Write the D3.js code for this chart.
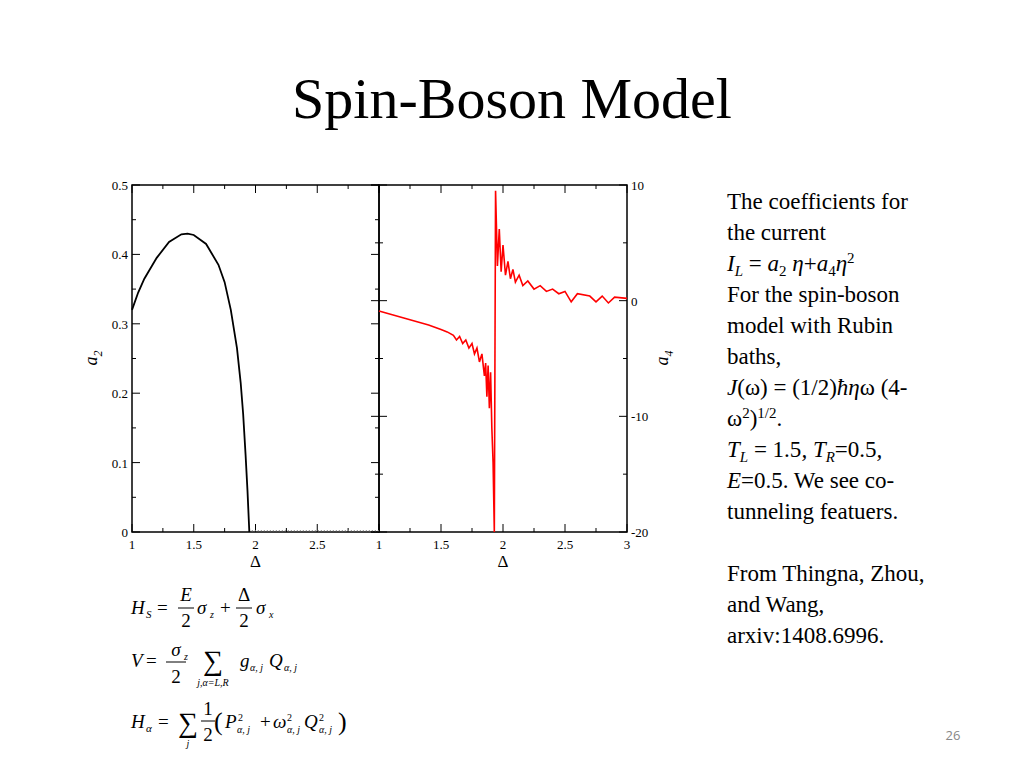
<!DOCTYPE html>
<html><head><meta charset="utf-8">
<script src="https://cdn.jsdelivr.net/npm/d3@7"></script>
<style>body{margin:0;background:#fff}svg{font-family:"Liberation Serif",serif}</style>
</head><body><svg id="c" width="1024" height="768"></svg>
<script>
// a2 vs Delta (left panel)
var a2X = [1.0,1.05,1.1,1.2,1.3,1.4,1.45,1.5,1.6,1.7,1.75,1.8,1.85,1.88,1.9,1.92,1.935,1.95];
var a2Y = [0.32,0.345,0.365,0.395,0.418,0.429,0.43,0.428,0.415,0.385,0.36,0.32,0.265,0.215,0.17,0.11,0.06,0];
// a4 vs Delta (right panel), left and right branch
var a4X = [1.0,1.1,1.2,1.3,1.4,1.5,1.55,1.6,1.625,1.65,1.675,1.7,1.725,1.75,1.77,1.79,1.81,1.83,1.85,1.86,1.87,1.88,1.89,1.9,1.91,1.92,1.93,
  1.94,1.955,1.97,1.985,2.0,2.02,2.04,2.06,2.08,2.1,2.13,2.16,2.2,2.25,2.3,2.35,2.4,2.45,2.5,2.55,2.6,2.7,2.75,2.8,2.85,2.9,3.0];
var a4Y = [-0.9,-1.2,-1.5,-1.8,-2.1,-2.5,-2.7,-3.0,-3.4,-3.1,-3.7,-3.4,-4.1,-3.7,-4.6,-4.1,-5.3,-4.6,-6.5,-5.4,-8.3,-5.6,-9.3,-6.2,-11,-14,-20,
  9.5,3,6.2,2.5,4.8,2.2,3.4,1.9,2.7,1.6,2.2,1.3,1.7,1.0,1.3,0.8,1.0,0.6,0.8,-0.1,0.6,0.4,-0.1,0.4,-0.2,0.3,0.2];
var xTicks = [1,1.5,2,2.5];
var textLines = ["The coefficients for","the current"];

var svg = d3.select("#c");
svg.append("text").attr("x",512).attr("y",118).attr("text-anchor","middle").attr("font-size",58).text("Spin-Boson Model");

var pTop = 185, pBot = 532;
var xL = d3.scaleLinear().domain([1,3]).range([132,379]);
var xR = d3.scaleLinear().domain([1,3]).range([379,627]);
var yL = d3.scaleLinear().domain([0,0.5]).range([pBot,pTop]);
var yR = d3.scaleLinear().domain([-20,10]).range([pBot,pTop]);

function panel(x, y, yt, ytm, xlast, rightLabels){
  var g = svg.append("g");
  g.append("rect").attr("x",x.range()[0]).attr("y",pTop).attr("width",x.range()[1]-x.range()[0]).attr("height",pBot-pTop)
    .attr("fill","none").attr("stroke","#000").attr("stroke-width",1.5);
  var xt = d3.range(1,3.01,0.25);
  xt.forEach(function(v){
    var big = Math.abs(v*2-Math.round(v*2))<1e-6, L = big?8:4;
    g.append("line").attr("x1",x(v)).attr("x2",x(v)).attr("y1",pBot).attr("y2",pBot-L).attr("stroke","#000");
    g.append("line").attr("x1",x(v)).attr("x2",x(v)).attr("y1",pTop).attr("y2",pTop+L).attr("stroke","#000");
  });
  (xlast?xTicks.concat([3]):xTicks).forEach(function(v){
    g.append("text").attr("x",x(v)).attr("y",pBot+17).attr("text-anchor","middle").attr("font-size",13).text(v);
  });
  var x0 = x.range()[0], x1 = x.range()[1];
  ytm.forEach(function(v){
    var big = yt.indexOf(v)>=0, L = big?8:4;
    g.append("line").attr("x1",x0).attr("x2",x0+L).attr("y1",y(v)).attr("y2",y(v)).attr("stroke","#000");
    g.append("line").attr("x1",x1).attr("x2",x1-L).attr("y1",y(v)).attr("y2",y(v)).attr("stroke","#000");
    if(rightLabels) g.append("line").attr("x1",x0).attr("x2",x0-L).attr("y1",y(v)).attr("y2",y(v)).attr("stroke","#000");
  });
  yt.forEach(function(v){
    if(rightLabels) g.append("text").attr("x",x1+4).attr("y",y(v)+5).attr("font-size",13).text(v);
    else g.append("text").attr("x",x0-4).attr("y",y(v)+5).attr("text-anchor","end").attr("font-size",13).text(v);
  });
  g.append("text").attr("x",(x0+x1)/2).attr("y",pBot+35).attr("text-anchor","middle").attr("font-size",17).text("Δ");
}
panel(xL,yL,[0,0.1,0.2,0.3,0.4,0.5],d3.range(0,0.501,0.05).map(function(v){return +v.toFixed(2)}),false,false);
panel(xR,yR,[-20,-10,0,10],d3.range(-20,10.01,5),true,true);

svg.append("text").attr("transform","translate(97,358) rotate(-90)").attr("text-anchor","middle").attr("font-size",18).attr("font-style","italic")
  .html('a<tspan font-size="12" dy="5">2</tspan>');
svg.append("text").attr("transform","translate(668,358) rotate(-90)").attr("text-anchor","middle").attr("font-size",18).attr("font-style","italic")
  .html('a<tspan font-size="12" dy="5">4</tspan>');

var lineL = d3.line().x(function(d){return xL(d[0])}).y(function(d){return yL(d[1])});
svg.append("path").attr("d",lineL(d3.zip(a2X,a2Y))).attr("fill","none").attr("stroke","#000").attr("stroke-width",1.8);
svg.append("path").attr("d",lineL([[1.97,0.002],[3,0.002]])).attr("fill","none").attr("stroke","#888").attr("stroke-width",1.2).attr("stroke-dasharray","1,2");
var lineR = d3.line().x(function(d){return xR(d[0])}).y(function(d){return yR(d[1])});
svg.append("path").attr("d",lineR(d3.zip(a4X,a4Y))).attr("fill","none").attr("stroke","#f00").attr("stroke-width",1.6);

// right column text
var t = svg.append("g").attr("font-size",23);
var lx = 727, ly = 209, dy = 31;
function ln(i,html){ t.append("text").attr("x",lx).attr("y",ly+dy*i).html(html); }
ln(0,textLines[0]); ln(1,textLines[1]);
ln(2,'<tspan font-style="italic">I</tspan><tspan font-style="italic" font-size="15" dy="5">L</tspan><tspan dy="-5"> = </tspan><tspan font-style="italic">a</tspan><tspan font-size="15" dy="5">2</tspan><tspan dy="-5"> </tspan><tspan font-style="italic">η</tspan><tspan>+</tspan><tspan font-style="italic">a</tspan><tspan font-size="15" dy="5">4</tspan><tspan font-style="italic" dy="-5">η</tspan><tspan font-size="15" dy="-8">2</tspan>');
ln(3,"For the spin-boson"); ln(4,"model with Rubin"); ln(5,"baths,");
ln(6,'<tspan font-style="italic">J</tspan>(ω) = (1/2)<tspan font-style="italic">ħη</tspan>ω (4-');
ln(7,'ω<tspan font-size="15" dy="-8">2</tspan><tspan dy="8">)</tspan><tspan font-size="15" dy="-8">1/2</tspan><tspan dy="8">.</tspan>');
ln(8,'<tspan font-style="italic">T</tspan><tspan font-style="italic" font-size="15" dy="5">L</tspan><tspan dy="-5"> = 1.5</tspan><tspan font-style="italic">, T</tspan><tspan font-style="italic" font-size="15" dy="5">R</tspan><tspan dy="-5">=0.5</tspan><tspan font-style="italic">,</tspan>');
ln(9,'<tspan font-style="italic">E</tspan>=0.5.  We see co-');
ln(10,"tunneling featuers.");
ln(12,"From Thingna, Zhou,"); ln(13,"and Wang,"); ln(14,"arxiv:1408.6996.");

// formulas
var f = svg.append("g").attr("font-size",19);
function tx(x,y,s,o){ var e=f.append("text").attr("x",x).attr("y",y).attr("font-size",(o&&o.fs)||19).text(s); if(o&&o.it) e.attr("font-style","italic"); if(o&&o.anchor) e.attr("text-anchor",o.anchor); return e;}
function bar(x1,x2,y){ f.append("line").attr("x1",x1).attr("x2",x2).attr("y1",y).attr("y2",y).attr("stroke","#000").attr("stroke-width",1); }
// H_S
tx(131,614,"H",{it:1}); tx(146,618,"S",{it:1,fs:11}); tx(157,614,"=");
tx(186,601,"E",{it:1,anchor:"middle"}); bar(178,194,608); tx(186,627,"2",{anchor:"middle"});
tx(197,614,"σ",{it:1}); tx(210,618,"z",{it:1,fs:10}); tx(220,614,"+");
tx(244,601,"Δ",{anchor:"middle"}); bar(236,252,608); tx(244,627,"2",{anchor:"middle"});
tx(256,614,"σ",{it:1}); tx(269,618,"x",{it:1,fs:10});
// V
tx(131,667,"V",{it:1}); tx(146,667,"=");
tx(176,656,"σ",{it:1,anchor:"middle"}); tx(184,660,"z",{it:1,fs:10}); bar(166,186,662); tx(176,683,"2",{anchor:"middle"});
tx(213,670,"∑",{anchor:"middle",fs:28}); tx(213,686,"j,α=L,R",{it:1,fs:10,anchor:"middle"});
tx(240,667,"g",{it:1}); tx(250,671,"α, j",{it:1,fs:10}); tx(269,667,"Q",{it:1}); tx(284,671,"α, j",{it:1,fs:10});
// H_alpha
tx(131,728,"H",{it:1}); tx(146,732,"α",{it:1,fs:11}); tx(158,728,"=");
tx(188,732,"∑",{anchor:"middle",fs:28}); tx(188,747,"j",{it:1,fs:10,anchor:"middle"});
tx(208,715,"1",{anchor:"middle"}); bar(201,215,721); tx(208,741,"2",{anchor:"middle"});
tx(214,730,"(",{fs:26}); tx(225,728,"P",{it:1}); tx(238,721,"2",{fs:10}); tx(237,733,"α, j",{it:1,fs:10});
tx(260,728,"+"); tx(273,728,"ω",{it:1}); tx(287,721,"2",{fs:10}); tx(287,733,"α, j",{it:1,fs:10});
tx(304,728,"Q",{it:1}); tx(319,721,"2",{fs:10}); tx(319,733,"α, j",{it:1,fs:10}); tx(338,730,")",{fs:26});

svg.append("text").attr("x",953).attr("y",740).attr("text-anchor","middle").attr("font-family","Open Sans, sans-serif").attr("font-size",13).attr("fill","#888").text("26");
</script></body></html>
